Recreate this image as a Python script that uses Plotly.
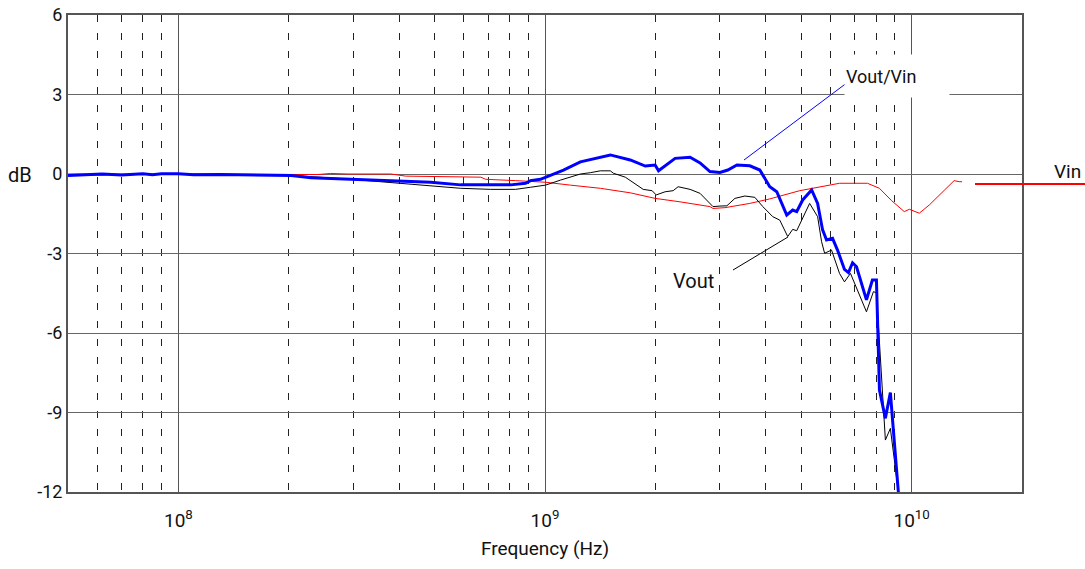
import math
import plotly.graph_objects as go

# ---------------- data ----------------
vout_vin_freq = [5e7, 5.5e7, 6.2e7, 7e7, 8e7, 8.5e7, 9e7, 1.0e8, 1.1e8, 1.3e8, 1.5e8,
                 2.03e8, 2.3e8, 2.96e8, 3.8e8, 4.88e8, 5.89e8, 8.06e8, 8.85e8, 9.13e8,
                 9.72e8, 1.035e9, 1.123e9, 1.249e9, 1.416e9, 1.507e9, 1.708e9, 1.877e9,
                 1.997e9, 2.04e9, 2.264e9, 2.487e9, 2.648e9, 2.818e9, 3.0e9, 3.153e9,
                 3.338e9, 3.62e9, 3.854e9, 4.103e9, 4.287e9, 4.564e9, 4.738e9, 4.859e9,
                 5.045e9, 5.337e9, 5.541e9, 5.717e9, 5.861e9, 6.085e9, 6.278e9, 6.559e9,
                 6.726e9, 6.9e9, 7.074e9, 7.53e9, 7.816e9, 8.017e9, 8.17e9, 8.48e9,
                 8.75e9, 9.2e9]
vout_vin_db = [-0.06, -0.04, 0.0, -0.04, 0.01, -0.03, 0.01, 0.01, -0.03, -0.02, -0.04,
               -0.06, -0.14, -0.19, -0.25, -0.31, -0.41, -0.41, -0.35, -0.25,
               -0.20, -0.04, 0.15, 0.46, 0.65, 0.72, 0.53, 0.30,
               0.34, 0.12, 0.59, 0.63, 0.42, 0.09, 0.06, 0.15,
               0.34, 0.31, 0.15, -0.48, -0.67, -1.55, -1.36, -1.42,
               -0.98, -0.60, -1.11, -2.11, -2.49, -2.43, -2.87, -3.60,
               -3.72, -3.35, -3.50, -4.75, -4.00, -4.00, -8.15, -9.22,
               -8.25, -12.0]

vout_freq = [5e7, 7e7, 1e8, 1.5e8, 2.03e8, 2.96e8, 3.15e8, 4.59e8, 5.89e8, 7.11e8,
             8.31e8, 9.13e8, 1.003e9, 1.102e9, 1.249e9, 1.33e9, 1.416e9, 1.507e9,
             1.536e9, 1.656e9, 1.853e9, 1.96e9, 2.01e9, 2.127e9, 2.236e9, 2.307e9,
             2.487e9, 2.648e9, 2.818e9, 2.872e9, 3.0e9, 3.134e9, 3.296e9, 3.509e9,
             3.735e9, 3.927e9, 4.18e9, 4.368e9, 4.592e9, 4.738e9, 4.859e9, 5.27e9,
             5.541e9, 5.68e9, 5.789e9, 6.047e9, 6.357e9, 6.559e9, 6.81e9, 7.53e9,
             7.866e9, 8.017e9, 8.48e9, 8.75e9, 9.2e9]
vout_db = [-0.05, -0.03, 0.0, -0.02, -0.05, -0.20, -0.23, -0.42, -0.54, -0.58,
           -0.58, -0.50, -0.42, -0.23, 0.0, 0.05, 0.12, 0.12,
           0.03, -0.12, -0.58, -0.63, -0.79, -0.67, -0.63, -0.48,
           -0.58, -0.73, -1.11, -1.23, -1.21, -1.20, -0.92, -0.83,
           -0.88, -1.23, -1.61, -1.74, -2.36, -2.09, -2.14, -1.11,
           -1.61, -2.55, -2.99, -2.87, -3.75, -4.07, -3.75, -5.20,
           -4.44, -4.48, -10.04, -9.6, -12.0]

vin_freq = [5e7, 1e8, 2e8, 2.4e8, 2.6e8, 2.9e8, 3.8e8, 4.05e8, 4.17e8, 6.68e8, 6.89e8,
            8.31e8, 9.42e8, 1.003e9, 1.173e9, 1.416e9, 1.708e9, 1.997e9, 2.336e9,
            2.818e9, 2.872e9, 3.096e9, 3.62e9, 4.103e9, 4.951e9, 5.61e9, 6.357e9,
            7.577e9, 8.168e9, 8.81e9, 9.55e9, 9.86e9, 1.049e10, 1.117e10, 1.19e10,
            1.266e10, 1.306e10, 1.348e10, 1.373e10]
vin_db = [0.0, 0.0, 0.0, -0.02, 0.02, 0.0, 0.0, -0.04, -0.08, -0.12, -0.20,
          -0.25, -0.29, -0.31, -0.42, -0.54, -0.71, -0.92, -1.05,
          -1.23, -1.30, -1.27, -1.11, -0.94, -0.63, -0.48, -0.35,
          -0.35, -0.54, -1.00, -1.42, -1.33, -1.48, -1.17, -0.79,
          -0.42, -0.25, -0.29, -0.29]

x_major_ticks = [1e8, 1e9, 1e10]
x_major_labels = ["10<sup>8</sup>", "10<sup>9</sup>", "10<sup>10</sup>"]
x_minor_ticks = [6e7, 7e7, 8e7, 9e7,
                 2e8, 3e8, 4e8, 5e8, 6e8, 7e8, 8e8, 9e8,
                 2e9, 3e9, 4e9, 5e9, 6e9, 7e9, 8e9, 9e9]
y_ticks = [6, 3, 0, -3, -6, -9, -12]
y_tick_labels = ["6", "3", "0", "-3", "-6", "-9", "-12"]
x_range = [5e7, 2e10]
y_range = [-12, 6]

FONT = "Roboto, Liberation Sans, sans-serif"

# ---------------- figure ----------------
W, H = 1085, 569
ML, MR, MT, MB = 68, 63, 15, 77
PW, PH = W - ML - MR, H - MT - MB


def px(xp):
    return (xp - ML) / PW


def py(yp):
    return (H - MB - yp) / PH


fig = go.Figure()
fig.add_trace(go.Scatter(x=vin_freq, y=vin_db, mode="lines", name="Vin",
                         line=dict(color="#ff0000", width=1)))
fig.add_trace(go.Scatter(x=vout_freq, y=vout_db, mode="lines", name="Vout",
                         line=dict(color="#000000", width=1)))
fig.add_trace(go.Scatter(x=vout_vin_freq, y=vout_vin_db, mode="lines", name="Vout/Vin",
                         line=dict(color="#0000ff", width=3)))

fig.update_layout(
    width=W, height=H,
    margin=dict(l=ML, r=MR, t=MT, b=MB, autoexpand=False),
    paper_bgcolor="white", plot_bgcolor="white",
    showlegend=False,
    font=dict(family=FONT, size=18, color="#111"),
    xaxis=dict(
        type="log", automargin=False,
        range=[math.log10(x_range[0]), math.log10(x_range[1])],
        tickmode="array", tickvals=x_major_ticks, ticktext=x_major_labels,
        showgrid=True, gridcolor="#555", gridwidth=1,
        minor=dict(tickmode="array", tickvals=x_minor_ticks, showgrid=True,
                   gridcolor="#222", gridwidth=1, griddash="7px,11px", ticks=""),
        showline=True, linecolor="#555", linewidth=2, mirror=True,
        ticks="", ticklabelstandoff=10,
        tickfont=dict(size=19, family=FONT),
        title=dict(text="Frequency (Hz)", font=dict(size=19, family=FONT), standoff=11),
        zeroline=False,
    ),
    yaxis=dict(
        automargin=False,
        range=y_range,
        tickmode="array", tickvals=y_ticks, ticktext=y_tick_labels,
        showgrid=True, gridcolor="#666", gridwidth=1,
        showline=True, linecolor="#555", linewidth=2, mirror=True,
        ticks="", ticklabelstandoff=0,
        tickfont=dict(size=18, family=FONT),
        zeroline=False,
    ),
)

# callout lines
fig.add_shape(type="line", xref="paper", yref="paper",
              x0=px(744), y0=py(160), x1=px(848), y1=py(82),
              line=dict(color="#0000ff", width=1))
fig.add_shape(type="line", xref="paper", yref="paper",
              x0=px(733), y0=py(270), x1=px(788), y1=py(237),
              line=dict(color="#000000", width=1))
fig.add_shape(type="line", xref="paper", yref="paper",
              x0=px(975), y0=py(184), x1=px(1085), y1=py(184),
              line=dict(color="#ff0000", width=2))

# labels
fig.add_annotation(xref="paper", yref="paper", x=px(844), y=py(76),
                   xanchor="left", yanchor="middle", text="Vout/Vin",
                   showarrow=False, bgcolor="white", width=102, height=40,
                   align="left", font=dict(size=18, family=FONT, color="#111"))
fig.add_annotation(xref="paper", yref="paper", x=px(693), y=py(281),
                   xanchor="center", yanchor="middle", text="Vout",
                   showarrow=False, font=dict(size=20, family=FONT, color="#111"))
fig.add_annotation(xref="paper", yref="paper", x=px(1083), y=py(172),
                   xanchor="right", yanchor="middle", text="Vin",
                   showarrow=False, font=dict(size=19, family=FONT, color="#111"))
fig.add_annotation(xref="paper", yref="paper", x=px(20), y=py(175),
                   xanchor="center", yanchor="middle", text="dB",
                   showarrow=False, font=dict(size=20, family=FONT, color="#111"))

fig.write_html("out.html",
               config={"displayModeBar": False},
               post_script="document.body.style.margin='0px';")
